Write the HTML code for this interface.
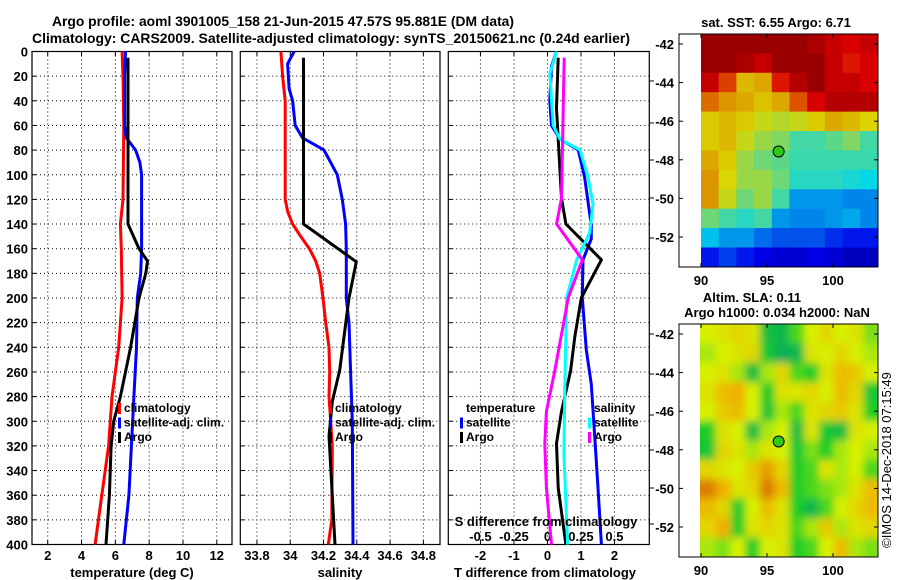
<!DOCTYPE html>
<html><head><meta charset="utf-8"><style>
html,body{margin:0;padding:0;background:#fff;}
svg{display:block;font-family:"Liberation Sans",Arial,sans-serif;font-weight:bold;}
</style></head><body>
<svg id="fig" width="900" height="580" viewBox="0 0 900 580" xmlns="http://www.w3.org/2000/svg">
<defs>
<filter id="blur" x="-5%" y="-5%" width="110%" height="110%"><feGaussianBlur stdDeviation="4"/></filter>
<clipPath id="clip1"><rect x="700" y="34" width="178" height="233"/></clipPath>
<clipPath id="clip2"><rect x="700" y="324" width="178" height="233"/></clipPath>
</defs>
<text x="52" y="26" font-size="14" textLength="462" lengthAdjust="spacingAndGlyphs">Argo profile: aoml 3901005_158 21-Jun-2015 47.57S 95.881E (DM data)</text>
<text x="32" y="43" font-size="14" textLength="598" lengthAdjust="spacingAndGlyphs">Climatology: CARS2009. Satellite-adjusted climatology: synTS_20150621.nc (0.24d earlier)</text>
<g id="g"></g>
</svg>
<script>
// ---- data ----
const depthTicks=[0,20,40,60,80,100,120,140,160,180,200,220,240,260,280,300,320,340,360,380,400];
const tempTicks=[2,4,6,8,10,12];
const salTicks=[33.8,34,34.2,34.4,34.6,34.8];
const tdTicks=[-2,-1,0,1,2];
const sdTicks=[-0.5,-0.25,0,0.25,0.5];
const sdTickLabels=["-0.5","-0.25","0","0.25","0.5"];

const tClimDepth=[0,20,60,120,140,160,200,240,280,320,360,400];
const tClimVal=[6.4,6.45,6.5,6.45,6.3,6.35,6.4,6.2,5.8,5.6,5.2,4.8];
const tSatDepth=[0,20,60,70,80,90,100,160,180,200,240,280,320,360,400];
const tSatVal=[6.6,6.55,6.55,6.65,7.2,7.45,7.55,7.55,7.5,7.3,7.25,7.1,6.95,6.8,6.5];
const tArgoDepth=[5,140,160,170,180,200,240,260,280,300,320,360,400];
const tArgoVal=[6.75,6.75,7.4,7.9,7.8,7.4,6.9,6.6,6.3,5.9,5.75,5.65,5.45];

const sClimDepth=[0,20,40,120,130,140,150,160,170,180,200,220,240,260,280,300,320,380,400];
const sClimVal=[33.944,33.954,33.97,33.97,33.985,34.014,34.063,34.115,34.153,34.177,34.197,34.213,34.233,34.237,34.233,34.243,34.253,34.25,34.229];
const sSatDepth=[0,10,30,40,60,70,80,100,120,140,160,200,220,260,300,400];
const sSatVal=[34.023,33.984,33.993,34.014,34.03,34.074,34.203,34.283,34.313,34.333,34.337,34.337,34.353,34.363,34.373,34.377];
const sArgoDepth=[5,140,170.6,200,258.7,284,312,400];
const sArgoVal=[34.08,34.08,34.397,34.353,34.297,34.253,34.233,34.269];

const dTSatDepth=[0,12,40,60,71,80,102,141,152,169,200,242,270,312,354,400];
const dTSatVal=[0.27,0.12,0.07,0.12,0.37,0.92,1.11,1.31,1.31,1.06,1.04,1.16,1.31,1.41,1.51,1.61];
const dTArgoDepth=[5,46,119,140,169,200,231,259,292,318,354,400];
const dTArgoVal=[0.32,0.27,0.42,0.55,1.61,1.01,0.82,0.69,0.42,0.27,0.32,0.55];
const dSSatDepth=[0,18,60,71,80,102,124,147,169,200,270,326,400];
const dSSatVal=[0.068,0.018,0.043,0.093,0.243,0.303,0.34,0.315,0.218,0.143,0.13,0.123,0.15];
const dSArgoDepth=[5,119,140,169,200,259,292,318,354,400];
const dSArgoVal=[0.125,0.105,0.068,0.26,0.155,0.055,-0.008,-0.02,-0.008,0.03];

const lonTicks=[90,95,100];
const latTicks=[-42,-44,-46,-48,-50,-52];
const argoLon=95.881, argoLat=-47.57;
const sstGrid=[
[.95,.95,.95,.95,.95,.95,.93,.9,.88,.9],
[.95,.95,.93,.9,.95,.95,.95,.9,.85,.88],
[.9,.8,.66,.68,.85,.92,.95,.9,.9,.88],
[.75,.7,.68,.65,.68,.78,.88,.92,.92,.92],
[.64,.66,.64,.6,.58,.6,.64,.68,.66,.63],
[.64,.66,.6,.55,.52,.45,.45,.48,.52,.45],
[.68,.64,.55,.5,.48,.44,.44,.44,.44,.44],
[.7,.62,.55,.55,.5,.42,.42,.42,.4,.38],
[.7,.6,.5,.55,.45,.3,.3,.3,.28,.28],
[.5,.45,.42,.45,.3,.28,.28,.3,.32,.28],
[.35,.3,.3,.25,.22,.22,.22,.18,.15,.15],
[.15,.2,.15,.12,.1,.1,.12,.1,.08,.08]];
const slaGrid=[
[.5,.55,.6,.55,.2,.15,.35,.5,.6,.5,.55,.4],
[.45,.5,.55,.6,.25,.1,.15,.55,.5,.6,.5,.45],
[.5,.55,.45,.2,.45,.6,.35,.3,.55,.7,.65,.5],
[.55,.7,.75,.5,.3,.55,.55,.6,.5,.7,.6,.25],
[.5,.65,.7,.5,.25,.45,.35,.55,.6,.65,.55,.3],
[.3,.55,.5,.2,.45,.5,.2,.55,.25,.2,.55,.5],
[.25,.6,.55,.45,.55,.5,.25,.4,.3,.45,.5,.45],
[.6,.55,.5,.65,.8,.6,.3,.35,.55,.45,.5,.35],
[.9,.75,.55,.6,.9,.7,.3,.35,.4,.45,.55,.7],
[.7,.6,.3,.5,.7,.55,.3,.15,.35,.5,.6,.7],
[.6,.75,.3,.55,.6,.55,.35,.45,.65,.45,.55,.6],
[.45,.4,.5,.3,.5,.55,.3,.35,.5,.7,.45,.4]];

// ---- drawing ----
const NS="http://www.w3.org/2000/svg";
const G=document.getElementById('g');
function mk(tag,at,parent){const e=document.createElementNS(NS,tag);for(const k in at)e.setAttribute(k,at[k]);(parent||G).appendChild(e);return e;}
function txt(s,x,y,anchor,size,parent){const t=mk('text',{x:x,y:y,'text-anchor':anchor||'start','font-size':size||13},parent);t.textContent=s;return t;}
const Y0=51.5,Y1=544.5;
const yD=d=>Y0+d/400*(Y1-Y0);
function lin(d0,d1,r0,r1){return v=>r0+(v-d0)/(d1-d0)*(r1-r0);}
const panels=[
 {x0:32,x1:232,d0:1.07,d1:12.9,name:'temperature-panel'},
 {x0:240.3,x1:440,d0:33.70,d1:34.90,name:'salinity-panel'},
 {x0:448.3,x1:649.3,d0:-2.96,d1:3.04,name:'difference-panel'}];
panels.forEach(p=>{p.fx=lin(p.d0,p.d1,p.x0,p.x1);});
const fS=lin(-2.96/4,3.04/4,448.3,649.3);

function grid(p,ticks,fx){
  const g=mk('g',{});
  
  
  ticks.forEach(v=>{const x=fx(v);mk('line',{x1:x,x2:x,y1:Y0,y2:Y1,stroke:'#000','stroke-width':1,'stroke-dasharray':'1,3'},g);
    mk('line',{x1:x,x2:x,y1:Y1,y2:Y1-4,stroke:'#000'},g);mk('line',{x1:x,x2:x,y1:Y0,y2:Y0+4,stroke:'#000'},g);});
  depthTicks.forEach(d=>{const y=yD(d);if(d>0&&d<400)mk('line',{x1:p.x0,x2:p.x1,y1:y,y2:y,stroke:'#000','stroke-dasharray':'1,3'},g);
    mk('line',{x1:p.x0,x2:p.x0+4,y1:y,y2:y,stroke:'#000'},g);});
  const r=mk('rect',{x:p.x0,y:Y0,width:p.x1-p.x0,height:Y1-Y0,fill:'none',stroke:'#000','stroke-width':1.2},g);
  
  
}
grid(panels[0],tempTicks,panels[0].fx);
grid(panels[1],salTicks,panels[1].fx);
grid(panels[2],tdTicks,panels[2].fx);

const yl=mk('g',{});


depthTicks.forEach(d=>txt(String(d),28,yD(d)+5,'end',13,yl));
[81,123,160,198,238,334,374,415,450,488,524].forEach(y=>mk('line',{x1:649.3,x2:654,y1:y,y2:y,stroke:'#000'}));

function xlabels(name,ticks,labels,fx,y){const g=mk('g',{});
  
  
  ticks.forEach((v,i)=>txt(labels?labels[i]:String(v),fx(v),y,'middle',13,g));}
xlabels('temperature-tick-labels',tempTicks,null,panels[0].fx,560);
xlabels('salinity-tick-labels',salTicks,null,panels[1].fx,560);
xlabels('t-difference-tick-labels',tdTicks,null,panels[2].fx,560);
xlabels('s-difference-tick-labels',sdTicks,sdTickLabels,fS,541);

let t;
t=txt('temperature (deg C)',132,577,'middle',13);
t=txt('salinity',340,577,'middle',13);
t=txt('T difference from climatology',545,577,'middle',13);

function series(name,depths,vals,fx,color){
  const pts=depths.map((d,i)=>fx(vals[i]).toFixed(1)+','+yD(d).toFixed(1)).join(' ');
  const e=mk('polyline',{points:pts,fill:'none',stroke:color,'stroke-width':3,'stroke-linejoin':'round'});
  
  
}
series('temp-climatology-line',tClimDepth,tClimVal,panels[0].fx,'#ff0000');
series('temp-satellite-line',tSatDepth,tSatVal,panels[0].fx,'#0000ff');
series('temp-argo-line',tArgoDepth,tArgoVal,panels[0].fx,'#000');
series('sal-climatology-line',sClimDepth,sClimVal,panels[1].fx,'#ff0000');
series('sal-satellite-line',sSatDepth,sSatVal,panels[1].fx,'#0000ff');
series('sal-argo-line',sArgoDepth,sArgoVal,panels[1].fx,'#000');
series('t-diff-satellite-line',dTSatDepth,dTSatVal,panels[2].fx,'#0000ff');
series('t-diff-argo-line',dTArgoDepth,dTArgoVal,panels[2].fx,'#000');
series('s-diff-satellite-line',dSSatDepth,dSSatVal,fS,'#00ffff');
series('s-diff-argo-line',dSArgoDepth,dSArgoVal,fS,'#ff00ff');

function legend(name,x,y,items){
  const g=mk('g',{});
  
  
  items.forEach((it,i)=>{
    if(it[1]){mk('rect',{x:x,y:y+i*14.5-9,width:3,height:11,fill:it[1]},g);}
    txt(it[0],x+6,y+i*14.5,'start',12,g);
  });
}
legend('temperature-legend',118,412,[['climatology','#ff0000'],['satellite-adj. clim.','#0000ff'],['Argo','#000']]);
legend('salinity-legend',329,412,[['climatology','#ff0000'],['satellite-adj. clim.','#0000ff'],['Argo','#000']]);
legend('t-difference-legend',460,412,[['temperature',null],['satellite','#0000ff'],['Argo','#000']]);
legend('s-difference-legend',588,412,[['salinity',null],['satellite','#00ffff'],['Argo','#ff00ff']]);
t=txt('S difference from climatology',546,526,'middle',13);

// ---- maps ----
function jet(v){const r=Math.min(1,Math.max(0,1.5-Math.abs(4*v-3))),gg=Math.min(1,Math.max(0,1.5-Math.abs(4*v-2))),b=Math.min(1,Math.max(0,1.5-Math.abs(4*v-1)));
  return 'rgb('+Math.round(r*220)+','+Math.round(gg*215)+','+Math.round(b*235)+')';}
const slaStops=[[0,[0,160,112]],[0.3,[30,205,40]],[0.5,[215,240,0]],[0.75,[240,175,0]],[1,[205,95,0]]];
function slaCol(v){for(let i=1;i<slaStops.length;i++){if(v<=slaStops[i][0]){const a=slaStops[i-1],b=slaStops[i],f=(v-a[0])/(b[0]-a[0]);
  return 'rgb('+a[1].map((c,k)=>Math.round(c+(b[1][k]-c)*f)).join(',')+')';}}return 'rgb(205,95,0)';}
function map(name,oy,gridv,colf,blur,clip,titles){
  const fx=lin(90,100,701,833), fy=lin(-42,-52,44+oy,237+oy);
  const g=mk('g',{});
  
  
  const cg=mk('g',{'clip-path':'url(#'+clip+')'},g);
  const ig=mk('g',blur?{filter:'url(#blur)'}:{},cg);
  const rows=gridv.length,cols=gridv[0].length;
  const lon0=90,lon1=103.4,lat0=-41.48,lat1=-53.55;
  gridv.forEach((row,r)=>row.forEach((v,c)=>{
    const xa=fx(lon0+(lon1-lon0)*c/cols),xb=fx(lon0+(lon1-lon0)*(c+1)/cols);
    const ya=fy(lat0+(lat1-lat0)*r/rows),yb=fy(lat0+(lat1-lat0)*(r+1)/rows);
    const pad=blur?14:0;
    mk('rect',{x:xa-(c==0?pad:0),y:ya-(r==0?pad:0),width:xb-xa+0.6+(c==0||c==cols-1?pad:0),height:yb-ya+0.6+(r==0||r==rows-1?pad:0),fill:colf(v)},ig);
  }));
  mk('rect',{x:679,y:34+oy,width:199,height:233,fill:'none',stroke:'#000','stroke-width':1},g);
  latTicks.forEach(l=>{const y=fy(l);mk('line',{x1:679,x2:683,y1:y,y2:y,stroke:'#000'},g);mk('line',{x1:874,x2:878,y1:y,y2:y,stroke:'#000'},g);txt(String(l),674,y+5,'end',13,g);});
  lonTicks.forEach(l=>{const x=fx(l);mk('line',{x1:x,x2:x,y1:267+oy,y2:263+oy,stroke:'#000'},g);mk('line',{x1:x,x2:x,y1:34+oy,y2:38+oy,stroke:'#000'},g);txt(String(l),x,285+oy,'middle',13,g);});
  const m=mk('circle',{cx:fx(argoLon),cy:fy(argoLat),r:5.5,fill:'#30c818',stroke:'#000','stroke-width':1},g);
  
  
  titles.forEach(tt=>txt(tt[0],tt[1],tt[2],'middle',13,g));
}
map('sst-map',0,sstGrid,jet,false,'clip1',[['sat. SST: 6.55 Argo: 6.71',776,27]]);
map('sla-map',290,slaGrid,slaCol,true,'clip2',[['Altim. SLA: 0.11',752,302],['Argo h1000: 0.034 h2000: NaN',777,317]]);
t=txt('©IMOS 14-Dec-2018 07:15:49',0,0,'middle',13);
t.setAttribute('transform','translate(891,460) rotate(-90)');
t.setAttribute('font-weight','normal');


</script>
</body></html>
